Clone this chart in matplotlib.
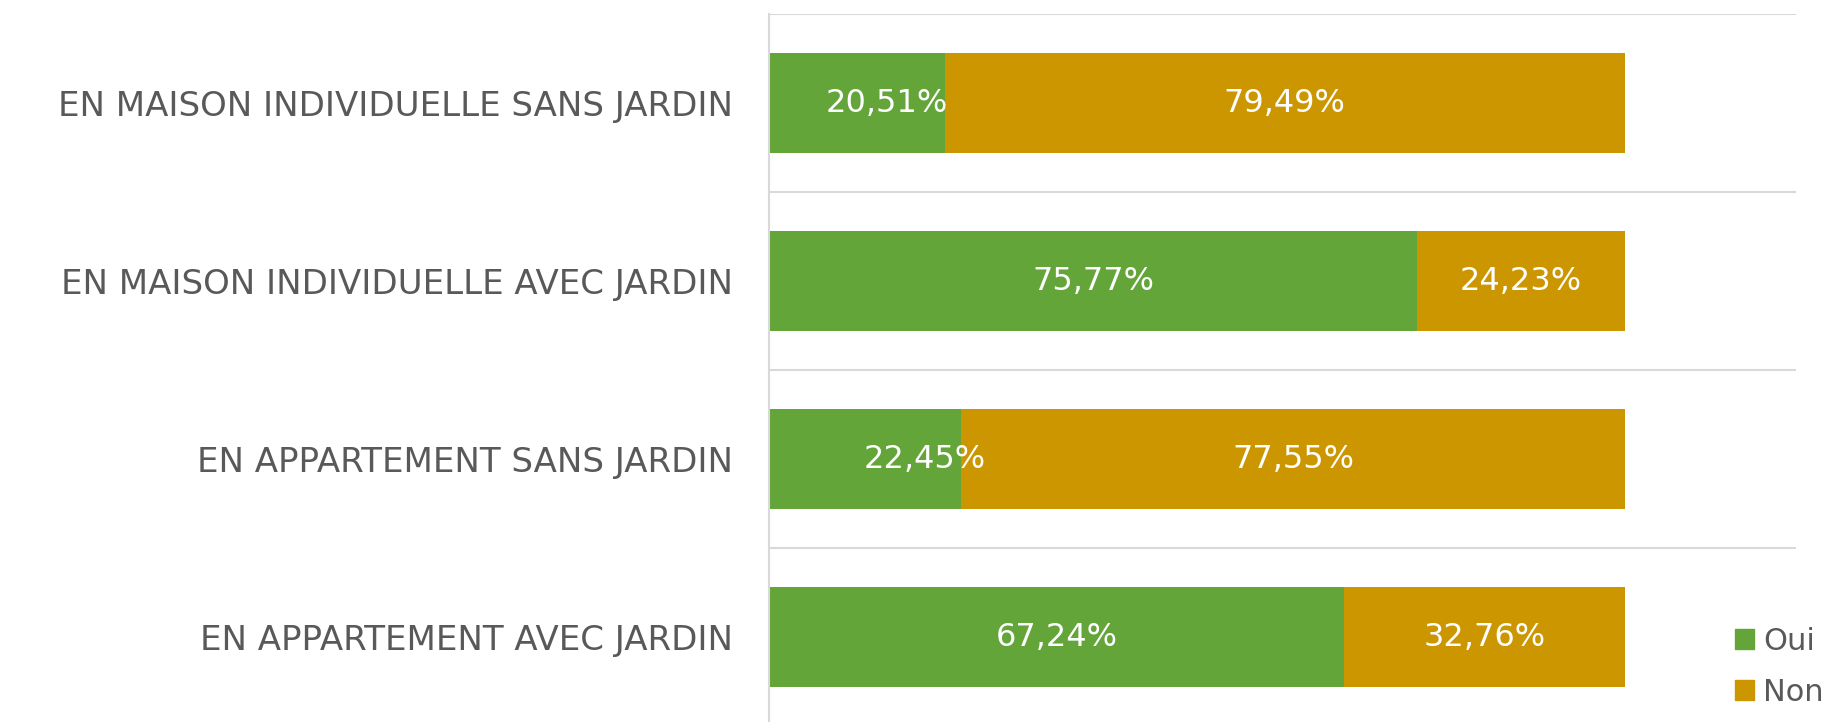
import matplotlib.pyplot as plt
from matplotlib.patches import Patch

# data (top to bottom as in the chart)
categories = [
    "EN MAISON INDIVIDUELLE SANS JARDIN",
    "EN MAISON INDIVIDUELLE AVEC JARDIN",
    "EN APPARTEMENT SANS JARDIN",
    "EN APPARTEMENT AVEC JARDIN",
]
oui = [20.51, 75.77, 22.45, 67.24]
non = [79.49, 24.23, 77.55, 32.76]
series_names = ["Oui", "Non"]

green = "#63A539"
gold = "#CC9600"
grey_text = "#595959"
grid_col = "#D9D9D9"

plt.rcParams['font.family'] = ['DejaVu Sans']

fig = plt.figure(figsize=(18.25, 7.22), dpi=100)
ax = fig.add_axes([769 / 1825, -4 / 722, 1027 / 1825, 712 / 722])

y = list(range(len(categories)))
bar_h = 0.562
ax.barh(y, oui, height=bar_h, color=green)
ax.barh(y, non, left=oui, height=bar_h, color=gold)

# value labels, the two narrow green ones sit a bit right of centre
nudge = {0: 3.5, 2: 7.0}
for i in y:
    ax.text(oui[i] / 2 + nudge.get(i, 0), i, f"{oui[i]:.2f}%".replace(".", ","),
            ha="center", va="center", color="white", fontsize=23)
    ax.text(oui[i] + non[i] / 2, i, f"{non[i]:.2f}%".replace(".", ","),
            ha="center", va="center", color="white", fontsize=23)

ax.set_xlim(0, 120)
ax.set_ylim(len(categories) - 0.5, -0.5)
ax.set_xticks([])
ax.set_yticks(y)
ax.set_yticklabels(categories, fontsize=24.5, color=grey_text)
ax.tick_params(axis="y", length=0, pad=26)

# category separators
ax.set_yticks([i - 0.5 for i in y], minor=True)
ax.tick_params(axis="y", which="minor", length=0)
ax.grid(axis="y", which="minor", color=grid_col, linewidth=1.5)
ax.set_axisbelow(True)

for side in ["top", "right", "bottom"]:
    ax.spines[side].set_visible(False)
ax.spines["left"].set_color(grid_col)
ax.spines["left"].set_linewidth(1.5)

handles = [Patch(color=green), Patch(color=gold)]
fig.legend(handles, series_names, loc="upper left",
           bbox_to_anchor=(1735 / 1825, 1 - 627 / 722), frameon=False,
           fontsize=22, labelcolor=grey_text, handlelength=0.62,
           handleheight=0.62, handletextpad=0.3, labelspacing=0.72,
           borderpad=0, borderaxespad=0)

fig.savefig("out.png", dpi=100)
